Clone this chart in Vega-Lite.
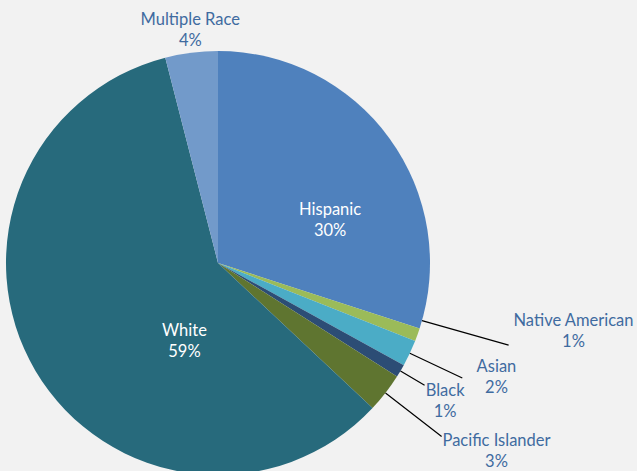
{
  "$schema": "https://vega.github.io/schema/vega-lite/v6.json",
  "width": 424,
  "height": 416,
  "padding": {"left": 6, "top": 55, "right": 207, "bottom": 0},
  "autosize": {"type": "none"},
  "background": "#F2F2F2",
  "config": {"view": {"stroke": null}, "text": {"font": "Lato", "fontSize": 16.5, "lineHeight": 21, "lineBreak": "\n", "align": "center", "baseline": "middle"}},
  "data": {"values": [
    {"group": "Hispanic", "value": 30},
    {"group": "Native American", "value": 1},
    {"group": "Asian", "value": 2},
    {"group": "Black", "value": 1},
    {"group": "Pacific Islander", "value": 3},
    {"group": "White", "value": 59},
    {"group": "Multiple Race", "value": 4}
  ]},
  "transform": [
    {"stack": "value", "groupby": [], "as": ["v0", "v1"]},
    {"calculate": "(datum.v0 + datum.v1) / 2", "as": "mid"},
    {"calculate": "datum.group + '\\n' + datum.value + '%'", "as": "label"}
  ],
  "encoding": {
    "theta": {"field": "v0", "type": "quantitative", "scale": {"domain": [0, 100]}},
    "theta2": {"field": "v1"}
  },
  "layer": [
    {
      "mark": {"type": "arc", "outerRadius": 212},
      "encoding": {
        "color": {"field": "group", "type": "nominal", "legend": null,
          "scale": {"domain": ["Hispanic", "Native American", "Asian", "Black", "Pacific Islander", "White", "Multiple Race"],
                    "range": ["#4F81BD", "#9BBB59", "#4BACC6", "#2C4D75", "#5F7530", "#276A7C", "#729ACA"]}}
      }
    },
    {
      "transform": [{"filter": "datum.group === 'Native American'"}],
      "mark": {"type": "arc", "innerRadius": 212, "outerRadius": 302, "padAngle": 1, "thetaOffset": -0.07, "theta2Offset": -0.07, "fill": "transparent", "stroke": "#000000", "strokeWidth": 1.2}
    },
    {
      "transform": [{"filter": "datum.group === 'Asian'"}],
      "mark": {"type": "arc", "innerRadius": 212, "outerRadius": 270, "padAngle": 1, "fill": "transparent", "stroke": "#000000", "strokeWidth": 1.2}
    },
    {
      "transform": [{"filter": "datum.group === 'Black'"}],
      "mark": {"type": "arc", "innerRadius": 212, "outerRadius": 240, "padAngle": 1, "fill": "transparent", "stroke": "#000000", "strokeWidth": 1.2}
    },
    {
      "transform": [{"filter": "datum.group === 'Pacific Islander'"}],
      "mark": {"type": "arc", "innerRadius": 212, "outerRadius": 283, "padAngle": 1, "fill": "transparent", "stroke": "#000000", "strokeWidth": 1.2}
    },
    {
      "transform": [{"filter": "datum.group === 'Hispanic'"}],
      "mark": {"type": "text", "radius": 120, "dx": 15, "dy": 18, "color": "#FFFFFF"},
      "encoding": {"theta": {"field": "mid", "type": "quantitative"}, "theta2": null, "text": {"field": "label"}}
    },
    {
      "transform": [{"filter": "datum.group === 'White'"}],
      "mark": {"type": "text", "radius": 68, "dx": 25, "dy": 33, "color": "#FFFFFF"},
      "encoding": {"theta": {"field": "mid", "type": "quantitative"}, "theta2": null, "text": {"field": "label"}}
    },
    {
      "transform": [{"filter": "datum.group === 'Multiple Race'"}],
      "mark": {"type": "text", "radius": 237, "dx": 2, "dy": -8, "color": "#3F6BA0"},
      "encoding": {"theta": {"field": "mid", "type": "quantitative"}, "theta2": null, "text": {"field": "label"}}
    },
    {
      "transform": [{"filter": "datum.group === 'Native American'"}],
      "mark": {"type": "text", "radius": 330, "dx": 45, "dy": -54, "color": "#3F6BA0"},
      "encoding": {"theta": {"field": "mid", "type": "quantitative"}, "theta2": null, "text": {"field": "label"}}
    },
    {
      "transform": [{"filter": "datum.group === 'Asian'"}],
      "mark": {"type": "text", "radius": 300, "dx": 7, "dy": -24, "color": "#3F6BA0"},
      "encoding": {"theta": {"field": "mid", "type": "quantitative"}, "theta2": null, "text": {"field": "label"}}
    },
    {
      "transform": [{"filter": "datum.group === 'Black'"}],
      "mark": {"type": "text", "radius": 265, "dx": -1, "dy": -7, "color": "#3F6BA0"},
      "encoding": {"theta": {"field": "mid", "type": "quantitative"}, "theta2": null, "text": {"field": "label"}}
    },
    {
      "transform": [{"filter": "datum.group === 'Pacific Islander'"}],
      "mark": {"type": "text", "radius": 336, "dx": 13, "dy": -28, "color": "#3F6BA0"},
      "encoding": {"theta": {"field": "mid", "type": "quantitative"}, "theta2": null, "text": {"field": "label"}}
    }
  ]
}
